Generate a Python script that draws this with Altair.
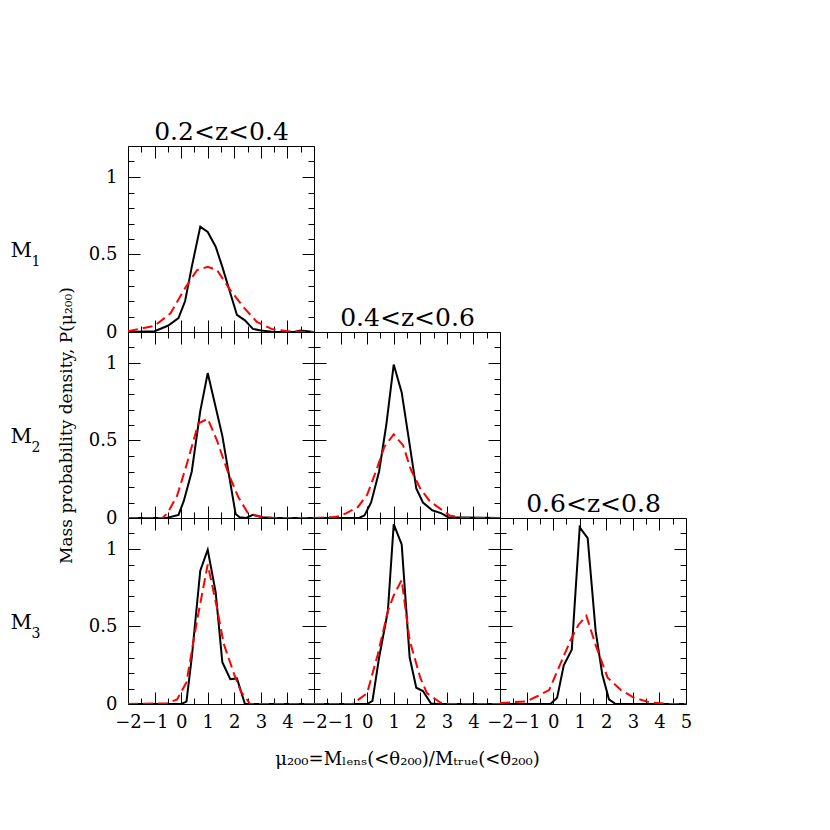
import altair as alt
import pandas as pd

# ---------------- data ----------------
# row M1, column 0.2<z<0.4
m1z1_black_x = [-2, -1, -0.5, -0.1, 0.15, 0.4, 0.72, 1.0, 1.3, 1.55, 2.1, 2.4, 2.7, 3.0, 3.5, 4.25, 4.5, 5]
m1z1_black_y = [0, 0.005, 0.04, 0.09, 0.2, 0.42, 0.68, 0.645, 0.55, 0.42, 0.11, 0.075, 0.02, 0.01, 0, 0, 0.01, 0]
m1z1_red_x = [-2, -1, -0.4, 0.1, 0.6, 1.0, 1.35, 1.85, 2.35, 2.85, 3.4, 4.0, 5]
m1z1_red_y = [0.005, 0.04, 0.12, 0.27, 0.40, 0.42, 0.40, 0.27, 0.16, 0.065, 0.02, 0.005, 0]

# row M2, column 0.2<z<0.4
m2z1_black_x = [-2, -0.55, -0.1, 0.1, 0.4, 0.72, 1.0, 1.3, 1.55, 2.05, 2.2, 2.45, 2.7, 3.05, 3.5, 5]
m2z1_black_y = [0, 0, 0.02, 0.11, 0.30, 0.69, 0.935, 0.715, 0.53, 0.026, 0.005, 0, 0.02, 0.005, 0, 0]
m2z1_red_x = [-2, -0.7, -0.5, -0.15, 0.2, 0.65, 1.0, 1.35, 1.75, 2.15, 2.5, 2.75, 3.1, 3.5, 5]
m2z1_red_y = [0, 0, 0.035, 0.145, 0.34, 0.61, 0.64, 0.5, 0.3, 0.135, 0.035, 0.02, 0.005, 0, 0]

# row M2, column 0.4<z<0.6
m2z2_black_x = [-2, -0.3, -0.1, 0.15, 0.45, 0.72, 1.0, 1.3, 1.55, 1.85, 2.1, 2.45, 2.8, 3.05, 5]
m2z2_black_y = [0, 0, 0.017, 0.1, 0.30, 0.6, 0.99, 0.81, 0.53, 0.19, 0.10, 0.05, 0.03, 0.005, 0]
m2z2_red_x = [-2, -1.2, -0.8, -0.35, 0.0, 0.35, 0.65, 1.0, 1.35, 1.65, 2.0, 2.35, 2.75, 3.1, 3.6, 5]
m2z2_red_y = [0, 0.006, 0.03, 0.07, 0.15, 0.31, 0.46, 0.54, 0.47, 0.31, 0.19, 0.11, 0.06, 0.017, 0, 0]

# row M3, column 0.2<z<0.4
m3z1_black_x = [-2, 0.0, 0.2, 0.4, 0.72, 1.0, 1.3, 1.55, 1.85, 2.1, 2.4, 5]
m3z1_black_y = [0, 0, 0.015, 0.30, 0.86, 0.995, 0.72, 0.27, 0.16, 0.165, 0, 0]
m3z1_red_x = [-2, -0.55, -0.15, 0.2, 0.6, 1.0, 1.35, 1.6, 2.0, 2.25, 2.6, 5]
m3z1_red_y = [0, 0.004, 0.03, 0.14, 0.54, 0.9, 0.62, 0.39, 0.19, 0.08, 0, 0]

# row M3, column 0.4<z<0.6
m3z2_black_x = [-2, 0.0, 0.2, 0.45, 0.78, 1.0, 1.3, 1.6, 1.85, 2.1, 2.4, 2.7, 5]
m3z2_black_y = [0, 0, 0.02, 0.30, 0.60, 1.16, 1.03, 0.30, 0.105, 0.084, 0.004, 0, 0]
m3z2_red_x = [-2, -0.55, 0.0, 0.4, 0.78, 1.0, 1.3, 1.6, 2.0, 2.25, 2.75, 3.1, 5]
m3z2_red_y = [0, 0, 0.07, 0.32, 0.60, 0.70, 0.80, 0.41, 0.17, 0.07, 0.01, 0, 0]

# row M3, column 0.6<z<0.8
m3z3_black_x = [-2, -0.1, 0.15, 0.4, 0.7, 1.0, 1.3, 1.6, 1.85, 2.1, 2.35, 5]
m3z3_black_y = [0, 0, 0.04, 0.25, 0.35, 1.14, 1.07, 0.47, 0.19, 0.03, 0, 0]
m3z3_red_x = [-2, -1.0, -0.6, -0.15, 0.2, 0.65, 0.95, 1.25, 1.6, 2.05, 2.55, 3.05, 3.65, 4.4, 5]
m3z3_red_y = [0.006, 0.017, 0.05, 0.09, 0.23, 0.41, 0.51, 0.57, 0.38, 0.17, 0.09, 0.04, 0.01, 0, 0]

z_titles = ["0.2<z<0.4", "0.4<z<0.6", "0.6<z<0.8"]
m_letter = "M"
m_subs = ["1", "2", "3"]
x_major = [-2, -1, 0, 1, 2, 3, 4, 5]
x_minor = [-1.5, -0.5, 0.5, 1.5, 2.5, 3.5, 4.5]
y_major = [0.5, 1.0]
y_minor = [0.1, 0.2, 0.3, 0.4, 0.6, 0.7, 0.8, 0.9, 1.1]
y_labels = [0, 0.5, 1]
x_title = "\u03bc\u2082\u2080\u2080=M\u2097\u2091\u2099\u209b(<\u03b8\u2082\u2080\u2080)/M\u209c\u1d63\u1d64\u2091(<\u03b8\u2082\u2080\u2080)"
y_title = "Mass probability density, P(\u03bc\u2082\u2080\u2080)"

# ---------------- layout ----------------
W = H = 186
FONT = "DejaVu Serif"
MAJ, MIN = 12, 6


def tick_axis(orient, values, size):
    return alt.Axis(orient=orient, values=values, tickSize=size,
                    offset=-(H if orient in ("top", "bottom") else W),
                    labels=False, domain=False, grid=False, title=None,
                    ticks=True, tickColor="black", tickWidth=1)


def text_axis(orient, text, size, tx, ty, align, baseline):
    return alt.Axis(orient=orient, labels=False, ticks=False, domain=False, grid=False,
                    title=text, titleFont=FONT, titleFontSize=size, titleFontWeight="normal",
                    titleColor="black", titleAngle=0, titleX=tx, titleY=ty,
                    titleAlign=align, titleBaseline=baseline)


def panel(bx, by, rx, ry, col, row, title=None, ytitle=None, xtitle=None, msub=None, show5=False):
    xs = alt.Scale(domain=[-2, 5], nice=False, zero=False)
    ys = alt.Scale(domain=[0, 1.2], nice=False, zero=False)
    black = pd.DataFrame({"x": bx, "y": by})
    red = pd.DataFrame({"x": rx, "y": ry})

    xkw = dict(orient="bottom", values=x_major, format="d", labels=(row == 3), ticks=False,
               domain=False, grid=False, labelFont=FONT, labelFontSize=18, labelPadding=9,
               labelOverlap=False, labelFlush=False, labelBound=False, labelColor="black",
               title=None)
    if not show5:
        xkw["labelExpr"] = "datum.value == 5 ? '' : datum.label"
    if xtitle:
        xkw.update(title=xtitle, titleFont=FONT, titleFontSize=18, titleFontWeight="normal",
                   titleColor="black", titleY=55, titleBaseline="middle")
    ykw = dict(orient="left", values=y_labels, format="~g", labels=(col == 1), ticks=False,
               domain=False, grid=False, labelFont=FONT, labelFontSize=18, labelPadding=11,
               labelOverlap=False, labelFlush=False, labelBound=False, labelColor="black",
               title=None)
    if ytitle:
        ykw.update(title=ytitle, titleFont=FONT, titleFontSize=17, titleFontWeight="normal",
                   titleColor="black", titleX=-62, titleBaseline="middle", titleAngle=270)

    def enc(xaxis, yaxis):
        return dict(x=alt.X("x:Q", scale=xs, axis=xaxis), y=alt.Y("y:Q", scale=ys, axis=yaxis))

    layers = [
        alt.Chart(black).mark_line(color="black", strokeWidth=2, clip=True).encode(
            **enc(alt.Axis(**xkw), alt.Axis(**ykw))),
        alt.Chart(red).mark_line(color="#ff0000", strokeWidth=2, strokeDash=[10, 5], clip=True).encode(
            **enc(tick_axis("top", x_major, MAJ), tick_axis("right", y_major, MAJ))),
        alt.Chart(black).mark_line(strokeOpacity=0).encode(
            **enc(tick_axis("top", x_minor, MIN), tick_axis("right", y_minor, MIN))),
        alt.Chart(black).mark_line(strokeOpacity=0).encode(
            **enc(tick_axis("bottom", x_major, MAJ), tick_axis("left", y_major, MAJ))),
        alt.Chart(black).mark_line(strokeOpacity=0).encode(
            **enc(tick_axis("bottom", x_minor, MIN), tick_axis("left", y_minor, MIN))),
    ]
    ztitle_axis = None
    if title:
        ztitle_axis = text_axis("top", title, 25, W / 2, -7, "center", "alphabetic")
    mletter_axis = None
    msub_axis = None
    if msub:
        mletter_axis = text_axis("left", m_letter, 21, -118, 104, "left", "middle")
        msub_axis = text_axis("left", msub, 14, -97, 115, "left", "middle")
    if ztitle_axis is not None or mletter_axis is not None:
        layers.append(alt.Chart(black).mark_line(strokeOpacity=0).encode(
            **enc(ztitle_axis, mletter_axis)))
    if msub_axis is not None:
        layers.append(alt.Chart(black).mark_line(strokeOpacity=0).encode(
            **enc(None, msub_axis)))

    ch = alt.layer(*layers).resolve_axis(x="independent", y="independent")
    return ch.properties(width=W, height=H)


def empty_cell():
    return alt.Chart(pd.DataFrame({"x": [0], "y": [0]})).mark_point(opacity=0).encode(
        x=alt.X("x:Q", axis=None), y=alt.Y("y:Q", axis=None)
    ).properties(width=W, height=H, view=alt.ViewBackground(stroke="transparent"))


p11 = panel(m1z1_black_x, m1z1_black_y, m1z1_red_x, m1z1_red_y, 1, 1,
            title=z_titles[0], msub=m_subs[0])
p21 = panel(m2z1_black_x, m2z1_black_y, m2z1_red_x, m2z1_red_y, 1, 2,
            ytitle=y_title, msub=m_subs[1])
p22 = panel(m2z2_black_x, m2z2_black_y, m2z2_red_x, m2z2_red_y, 2, 2, title=z_titles[1])
p31 = panel(m3z1_black_x, m3z1_black_y, m3z1_red_x, m3z1_red_y, 1, 3, msub=m_subs[2])
p32 = panel(m3z2_black_x, m3z2_black_y, m3z2_red_x, m3z2_red_y, 2, 3, xtitle=x_title)
p33 = panel(m3z3_black_x, m3z3_black_y, m3z3_red_x, m3z3_red_y, 3, 3, title=z_titles[2], show5=True)

cells = [p11, empty_cell(), empty_cell(),
         p21, p22, empty_cell(),
         p31, p32, p33]

chart = alt.concat(*cells, columns=3, spacing=0, bounds="flush").properties(
    padding={"left": 1, "top": 110, "right": 5, "bottom": 5},
    background="white",
).configure_view(stroke="black", strokeWidth=1)

chart.save("out.html", embed_options={"renderer": "svg", "actions": False})
